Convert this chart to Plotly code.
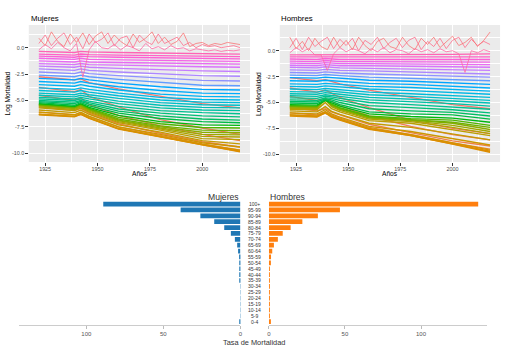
import math
import plotly.graph_objects as go

# ---------------- data: log mortality by age (rows) and year (columns) ----------------
YEARS = [1922, 1935, 1939, 1942, 1946, 1960, 1980, 2000, 2018]
AGES = [0, 1, 2, 4, 6, 8, 10, 12, 14, 16, 18, 20, 23, 26, 29, 32, 35, 38, 41, 44, 47,
        50, 53, 56, 59, 62, 65, 68, 71, 74, 77, 80, 83, 86, 89, 92, 95, 98, 101]

MUJERES_LOGM = [
    [-2.75, -3.0, -3.05, -2.95, -3.3, -3.9, -4.6, -5.3, -5.7],
    [-3.75, -4.1, -4.15, -3.95, -4.6, -5.6, -6.8, -7.6, -8.2],
    [-4.5, -4.9, -4.95, -4.75, -5.4, -6.4, -7.4, -8.2, -8.8],
    [-5.6, -5.9, -5.95, -5.75, -6.2, -7.2, -8.1, -8.9, -9.4],
    [-6.1, -6.3, -6.35, -6.15, -6.5, -7.5, -8.3, -9.1, -9.7],
    [-6.3, -6.45, -6.5, -6.3, -6.65, -7.65, -8.4, -9.2, -9.8],
    [-6.35, -6.5, -6.55, -6.3, -6.7, -7.7, -8.45, -9.2, -9.85],
    [-6.3, -6.45, -6.5, -6.25, -6.65, -7.65, -8.4, -9.15, -9.7],
    [-6.1, -6.3, -6.35, -6.1, -6.5, -7.5, -8.2, -9.0, -9.4],
    [-5.9, -6.1, -6.15, -5.9, -6.3, -7.3, -8.0, -8.8, -9.1],
    [-5.7, -5.9, -5.95, -5.7, -6.1, -7.1, -7.8, -8.6, -8.7],
    [-5.6, -5.8, -5.85, -5.6, -6.0, -7.0, -7.7, -8.4, -8.45],
    [-5.5, -5.7, -5.75, -5.5, -5.9, -6.9, -7.6, -8.2, -8.25],
    [-5.45, -5.65, -5.7, -5.45, -5.85, -6.85, -7.5, -8.0, -8.05],
    [-5.4, -5.6, -5.65, -5.4, -5.8, -6.75, -7.4, -7.8, -7.85],
    [-5.35, -5.55, -5.6, -5.35, -5.75, -6.6, -7.2, -7.55, -7.6],
    [-5.3, -5.5, -5.55, -5.3, -5.65, -6.4, -7.0, -7.3, -7.35],
    [-5.2, -5.4, -5.45, -5.2, -5.5, -6.2, -6.7, -7.0, -7.1],
    [-5.1, -5.25, -5.3, -5.1, -5.35, -6.0, -6.45, -6.75, -6.85],
    [-5.0, -5.1, -5.15, -5.0, -5.2, -5.8, -6.2, -6.45, -6.55],
    [-4.85, -4.95, -5.0, -4.85, -5.05, -5.55, -5.95, -6.15, -6.25],
    [-4.7, -4.8, -4.85, -4.7, -4.85, -5.3, -5.7, -5.9, -5.95],
    [-4.5, -4.6, -4.65, -4.5, -4.65, -5.05, -5.45, -5.65, -5.7],
    [-4.3, -4.4, -4.45, -4.3, -4.45, -4.8, -5.2, -5.4, -5.45],
    [-4.05, -4.15, -4.2, -4.05, -4.2, -4.55, -4.95, -5.15, -5.2],
    [-3.8, -3.9, -3.95, -3.8, -3.95, -4.3, -4.7, -4.9, -4.95],
    [-3.5, -3.6, -3.65, -3.5, -3.65, -4.0, -4.4, -4.6, -4.65],
    [-3.2, -3.3, -3.35, -3.2, -3.35, -3.7, -4.05, -4.3, -4.35],
    [-2.9, -3.0, -3.05, -2.9, -3.05, -3.35, -3.7, -3.95, -4.0],
    [-2.6, -2.7, -2.75, -2.6, -2.75, -3.0, -3.3, -3.55, -3.6],
    [-2.3, -2.4, -2.45, -2.3, -2.45, -2.65, -2.9, -3.1, -3.15],
    [-2.0, -2.1, -2.15, -2.0, -2.15, -2.3, -2.5, -2.65, -2.7],
    [-1.75, -1.8, -1.85, -1.75, -1.85, -1.95, -2.1, -2.2, -2.25],
    [-1.5, -1.55, -1.6, -1.5, -1.6, -1.65, -1.75, -1.8, -1.85],
    [-1.25, -1.3, -1.35, -1.25, -1.35, -1.4, -1.45, -1.5, -1.55],
    [-1.0, -1.05, -1.1, -1.0, -1.1, -1.15, -1.2, -1.25, -1.3],
    [-0.8, -0.85, -0.9, -0.8, -0.85, -0.9, -0.95, -1.0, -1.05],
    [-0.6, -0.65, -0.7, -0.6, -0.65, -0.7, -0.75, -0.8, -0.85],
    [-0.35, -0.4, -0.45, -0.35, -0.4, -0.45, -0.5, -0.55, -0.6],
]

HOMBRES_LOGM = [
    [-2.6, -2.9, -2.8, -3.0, -3.2, -3.8, -4.5, -5.2, -5.6],
    [-3.6, -4.0, -3.8, -4.1, -4.5, -5.5, -6.7, -7.5, -8.0],
    [-4.4, -4.8, -4.6, -4.9, -5.3, -6.3, -7.3, -8.1, -8.6],
    [-5.5, -5.8, -5.6, -5.9, -6.2, -7.1, -7.9, -8.7, -9.2],
    [-6.0, -6.2, -5.9, -6.2, -6.5, -7.4, -8.1, -8.9, -9.5],
    [-6.2, -6.35, -6.0, -6.35, -6.65, -7.55, -8.2, -9.0, -9.7],
    [-6.3, -6.4, -6.0, -6.4, -6.7, -7.6, -8.2, -9.0, -9.8],
    [-6.2, -6.3, -5.9, -6.3, -6.6, -7.5, -8.1, -8.9, -9.6],
    [-6.0, -6.1, -5.7, -6.1, -6.4, -7.3, -7.8, -8.5, -9.1],
    [-5.8, -5.9, -5.4, -5.85, -6.15, -7.0, -7.4, -8.0, -8.6],
    [-5.65, -5.7, -5.0, -5.6, -5.9, -6.75, -7.0, -7.6, -8.2],
    [-5.55, -5.6, -4.7, -5.4, -5.75, -6.6, -6.85, -7.4, -8.0],
    [-5.45, -5.5, -4.6, -5.3, -5.65, -6.5, -6.75, -7.2, -7.8],
    [-5.4, -5.45, -4.6, -5.25, -5.6, -6.45, -6.7, -7.0, -7.6],
    [-5.35, -5.4, -4.7, -5.2, -5.55, -6.4, -6.65, -6.9, -7.4],
    [-5.3, -5.35, -4.8, -5.15, -5.5, -6.3, -6.55, -6.7, -7.2],
    [-5.2, -5.25, -4.8, -5.05, -5.35, -6.1, -6.35, -6.5, -6.9],
    [-5.05, -5.1, -4.75, -4.9, -5.2, -5.9, -6.1, -6.2, -6.6],
    [-4.9, -4.95, -4.65, -4.75, -5.0, -5.6, -5.8, -5.95, -6.3],
    [-4.75, -4.8, -4.55, -4.6, -4.8, -5.3, -5.5, -5.7, -6.0],
    [-4.55, -4.6, -4.4, -4.45, -4.6, -5.0, -5.2, -5.4, -5.65],
    [-4.35, -4.4, -4.25, -4.3, -4.4, -4.75, -4.9, -5.1, -5.35],
    [-4.15, -4.2, -4.05, -4.1, -4.2, -4.5, -4.65, -4.85, -5.05],
    [-3.95, -4.0, -3.85, -3.9, -4.0, -4.25, -4.4, -4.6, -4.8],
    [-3.7, -3.75, -3.65, -3.7, -3.75, -4.0, -4.15, -4.35, -4.5],
    [-3.45, -3.5, -3.4, -3.45, -3.5, -3.7, -3.85, -4.05, -4.2],
    [-3.2, -3.25, -3.15, -3.2, -3.25, -3.45, -3.55, -3.75, -3.9],
    [-2.9, -2.95, -2.85, -2.9, -2.95, -3.15, -3.25, -3.45, -3.6],
    [-2.6, -2.65, -2.55, -2.6, -2.65, -2.85, -2.95, -3.1, -3.25],
    [-2.35, -2.4, -2.3, -2.35, -2.4, -2.55, -2.65, -2.8, -2.9],
    [-2.1, -2.15, -2.05, -2.1, -2.15, -2.25, -2.35, -2.45, -2.55],
    [-1.85, -1.9, -1.8, -1.85, -1.9, -1.95, -2.05, -2.15, -2.25],
    [-1.6, -1.65, -1.55, -1.6, -1.65, -1.7, -1.75, -1.85, -1.9],
    [-1.4, -1.45, -1.35, -1.4, -1.45, -1.45, -1.5, -1.55, -1.6],
    [-1.2, -1.25, -1.15, -1.2, -1.25, -1.25, -1.3, -1.3, -1.35],
    [-1.0, -1.05, -0.95, -1.0, -1.05, -1.05, -1.05, -1.1, -1.1],
    [-0.8, -0.85, -0.75, -0.8, -0.85, -0.85, -0.85, -0.85, -0.85],
    [-0.6, -0.6, -0.55, -0.6, -0.6, -0.6, -0.6, -0.6, -0.6],
    [-0.4, -0.4, -0.35, -0.4, -0.4, -0.4, -0.35, -0.35, -0.3],
]

# oldest ages: noisy series, every third year 1922..2018
YEARS_OLD = [1922, 1925, 1928, 1931, 1934, 1937, 1940, 1943, 1946, 1949, 1952, 1955,
             1958, 1961, 1964, 1967, 1970, 1973, 1976, 1979, 1982, 1985, 1988, 1991,
             1994, 1997, 2000, 2003, 2006, 2009, 2012, 2015, 2018]
OLD_AGES = [104, 107, 110]
MUJERES_OLD = [
    [-0.2, 0.3, -0.1, 0.5, 0.0, -0.3, 0.4, -2.8, -0.2, 0.6, 0.0, -0.1, 0.3, -0.2, 0.2, 0.0, -0.3,
     0.4, -0.1, 0.1, -0.2, 0.2, -0.1, 0.0, -0.3, -0.1, -0.2, -0.3, -0.2, -0.35, -0.25, -0.3, -0.2],
    [0.4, 1.2, 0.2, 0.9, 1.4, 0.3, 1.0, -0.1, 1.3, 0.5, 0.8, 1.4, 0.2, 0.9, 1.1, 0.0, 1.2,
     0.6, 0.3, 1.3, 0.4, 0.7, 1.0, 0.2, 0.5, 0.0, 0.3, 0.1, 0.2, 0.0, 0.1, 0.2, 0.0],
    [0.9, 0.2, 1.5, 0.6, 0.1, 1.3, 0.5, 1.4, 0.3, 1.1, 1.5, 0.4, 1.2, 0.6, 0.2, 1.3, 0.5,
     0.9, 1.5, 0.4, 1.0, 0.3, 0.6, 1.4, 0.1, 0.4, 0.5, 0.2, 0.4, 0.3, 0.5, 0.4, 0.3],
]
HOMBRES_OLD = [
    [-0.2, 0.3, -0.1, 0.2, -0.4, -0.4, -1.9, -0.3, 0.3, -0.1, 0.2, 0.0, -0.3, 0.2, -0.1, 0.3, -0.2,
     0.1, 0.0, -0.3, 0.2, -0.1, 0.1, -0.2, 0.2, -0.1, 0.0, -0.3, -2.1, 0.0, -0.2, 0.1, -0.1],
    [0.3, 1.2, 0.1, 1.3, 0.4, 0.9, 1.3, 0.2, 1.1, 0.5, 1.2, 0.0, 1.0, 0.6, 1.3, 0.2, 0.8,
     1.2, 0.3, 1.0, 1.3, 0.1, 0.9, 0.4, 1.2, 0.2, 1.0, 1.3, 0.3, 1.1, 0.5, 0.9, 0.6],
    [1.3, 0.2, 0.9, 0.0, 1.2, 0.4, 0.1, 1.3, 0.3, 1.0, 0.1, 1.3, 0.5, 0.0, 0.9, 1.2, 0.4,
     0.2, 1.3, 0.5, 0.1, 1.2, 0.6, 1.3, 0.3, 0.9, 1.4, 0.5, 0.8, 1.3, 0.4, 1.0, 1.8],
]

# ---------------- data: mortality rate by age group ----------------
AGE_GROUPS = ["0-4", "5-9", "10-14", "15-19", "20-24", "25-29", "30-34", "35-39", "40-44",
              "45-49", "50-54", "55-59", "60-64", "65-69", "70-74", "75-79", "80-84",
              "85-89", "90-94", "95-99", "100+"]
TASA_MUJERES = [0.6, 0.03, 0.03, 0.05, 0.06, 0.08, 0.1, 0.15, 0.25, 0.35, 0.55, 0.85, 1.5,
                2.1, 3.6, 6.2, 10.5, 17.0, 26.0, 38.8, 89.0]
TASA_HOMBRES = [0.8, 0.05, 0.06, 0.12, 0.18, 0.2, 0.25, 0.3, 0.45, 0.6, 0.9, 1.4, 2.2,
                3.3, 5.9, 9.1, 14.3, 22.0, 32.2, 46.7, 137.6]

Y_TICKS = [0, -2.5, -5, -7.5, -10]
Y_TICKTEXT = ["0.0", "-2.5", "-5.0", "-7.5", "-10.0"]
X_TICKS = [1925, 1950, 1975, 2000]

W, H = 511, 356


def hcl_hex(h, c=100.0, l=65.0):
    hr = math.radians(h)
    U, V = c * math.cos(hr), c * math.sin(hr)
    Xn, Yn, Zn = 95.047, 100.0, 108.883
    Y = Yn * ((l + 16) / 116) ** 3 if l > 8 else Yn * l / 903.3
    den = Xn + 15 * Yn + 3 * Zn
    un, vn = 4 * Xn / den, 9 * Yn / den
    u = U / (13 * l) + un
    v = V / (13 * l) + vn
    X = 9.0 * Y * u / (4 * v)
    Z = -X / 3 - 5 * Y + 3 * Y / v
    X, Y, Z = X / 100, Y / 100, Z / 100
    r = 3.240479 * X - 1.537150 * Y - 0.498535 * Z
    g = -0.969256 * X + 1.875992 * Y + 0.041556 * Z
    b = 0.055648 * X - 0.204043 * Y + 1.057311 * Z

    def gam(t):
        t = 12.92 * t if t <= 0.0031308 else 1.055 * t ** (1 / 2.4) - 0.055
        return max(0, min(255, round(t * 255)))
    return "#%02x%02x%02x" % (gam(r), gam(g), gam(b))


def age_color(age):
    return hcl_hex(15 + 360.0 * age / 111)


fig = go.Figure()

LW = 1.35
for (table, old, xa, ya) in [(MUJERES_LOGM, MUJERES_OLD, "x", "y"),
                             (HOMBRES_LOGM, HOMBRES_OLD, "x2", "y2")]:
    for age, row in zip(AGES, table):
        fig.add_trace(go.Scatter(x=YEARS, y=row, mode="lines", xaxis=xa, yaxis=ya,
                                 line=dict(color=age_color(age), width=LW),
                                 showlegend=False, hoverinfo="skip"))
    for age, row in zip(OLD_AGES, old):
        fig.add_trace(go.Scatter(x=YEARS_OLD, y=row, mode="lines", xaxis=xa, yaxis=ya,
                                 line=dict(color=age_color(age), width=0.8),
                                 showlegend=False, hoverinfo="skip"))

fig.add_trace(go.Bar(x=TASA_MUJERES, y=AGE_GROUPS, orientation="h", xaxis="x3", yaxis="y3",
                     marker=dict(color="#1f77b4", line=dict(width=0)), width=0.8,
                     showlegend=False, hoverinfo="skip"))
fig.add_trace(go.Bar(x=TASA_HOMBRES, y=AGE_GROUPS, orientation="h", xaxis="x4", yaxis="y4",
                     marker=dict(color="#ff7f0e", line=dict(width=0)), width=0.8,
                     showlegend=False, hoverinfo="skip"))


def px_x(p):
    return p / W


def px_y(p):
    return 1 - p / H


top_x = dict(range=[1917.2, 2022.8], tickvals=X_TICKS, ticks="outside", ticklen=2.5,
             tickwidth=0.6, tickcolor="#333333", showgrid=True, gridcolor="white",
             gridwidth=0.9, zeroline=False, showline=False, ticklabelstandoff=-1,
             tickfont=dict(size=5.4, color="#4D4D4D", family="Liberation Sans"),
             minor=dict(tickvals=[1937.5, 1962.5, 1987.5, 2012.5], showgrid=True,
                        gridcolor="white", gridwidth=0.45, ticks=""))
top_y = dict(tickvals=Y_TICKS, ticktext=Y_TICKTEXT, ticks="outside", ticklen=2.5,
             tickwidth=0.6, tickcolor="#333333", showgrid=True, gridcolor="white",
             gridwidth=0.9, zeroline=False, showline=False,
             tickfont=dict(size=5.4, color="#4D4D4D", family="Liberation Sans"),
             minor=dict(tickvals=[1.25, -1.25, -3.75, -6.25, -8.75], showgrid=True,
                        gridcolor="white", gridwidth=0.45, ticks=""))

bot_x = dict(tickvals=[0, 50, 100], ticks="outside", ticklen=3, tickwidth=0.8,
             tickcolor="#bbbbbb", showline=True, linecolor="#cccccc", linewidth=1,
             showgrid=False, zeroline=False,
             tickfont=dict(size=6, color="#555555", family="Liberation Sans"))
bot_y = dict(type="category", range=[-0.5, 20.5], visible=False,
             domain=[px_y(324.6), px_y(201.1)])

fig.update_layout(
    width=W, height=H, margin=dict(l=0, r=0, t=0, b=0),
    paper_bgcolor="white", plot_bgcolor="white", showlegend=False, bargap=0.2,
    font=dict(family="Liberation Sans"),
    xaxis=dict(top_x, domain=[px_x(27), px_x(250)], anchor="y"),
    yaxis=dict(top_y, domain=[px_y(162), px_y(25)], range=[-10.82, 2.15], anchor="x"),
    xaxis2=dict(top_x, domain=[px_x(280), px_x(502)], anchor="y2"),
    yaxis2=dict(top_y, domain=[px_y(162), px_y(25)], range=[-10.74, 2.48], anchor="x2"),
    xaxis3=dict(bot_x, domain=[px_x(17.4), px_x(240.3)], range=[143.5, 0], anchor="y3"),
    yaxis3=dict(bot_y, anchor="x3"),
    xaxis4=dict(bot_x, domain=[px_x(269), px_x(489)], range=[0, 143.5], anchor="y4"),
    yaxis4=dict(bot_y, anchor="x4"),
)

for xa, ya in [("x", "y"), ("x2", "y2")]:
    fig.add_shape(type="rect", xref=xa + " domain", yref=ya + " domain", x0=0, x1=1, y0=0,
                  y1=1, fillcolor="#EBEBEB", line=dict(width=0), layer="below")

ann = []


def text(t, x, y, size, color="#000000", xanchor="center", yanchor="middle", angle=0):
    ann.append(dict(text=t, x=px_x(x), y=px_y(y), xref="paper", yref="paper",
                    showarrow=False, xanchor=xanchor, yanchor=yanchor, textangle=angle,
                    font=dict(size=size, color=color, family="Liberation Sans")))


text("Mujeres", 27.5, 18, 7.8, xanchor="left")
text("Hombres", 279.5, 18, 7.8, xanchor="left")
text("Log Mortalidad", 7, 93.5, 6.6, angle=-90)
text("Log Mortalidad", 259.5, 93.5, 6.6, angle=-90)
text("Años", 139, 173.5, 6.6)
text("Años", 391, 173.5, 6.6)
text("Mujeres", 240.5, 196.5, 8.6, color="#333333", xanchor="right")
text("Hombres", 268.5, 196.5, 8.6, color="#333333", xanchor="left")
text("Tasa de Mortalidad", 254, 342.5, 7.4, color="#333333")

for g in AGE_GROUPS:
    ann.append(dict(text=g, x=px_x(254.5), y=g, xref="paper", yref="y3", showarrow=False,
                    xanchor="center", yanchor="middle",
                    font=dict(size=5, color="#333333", family="Liberation Sans")))

fig.update_layout(annotations=ann)
fig.write_html("out.html", config={"displayModeBar": False},
               post_script="document.body.style.margin='0px';")
